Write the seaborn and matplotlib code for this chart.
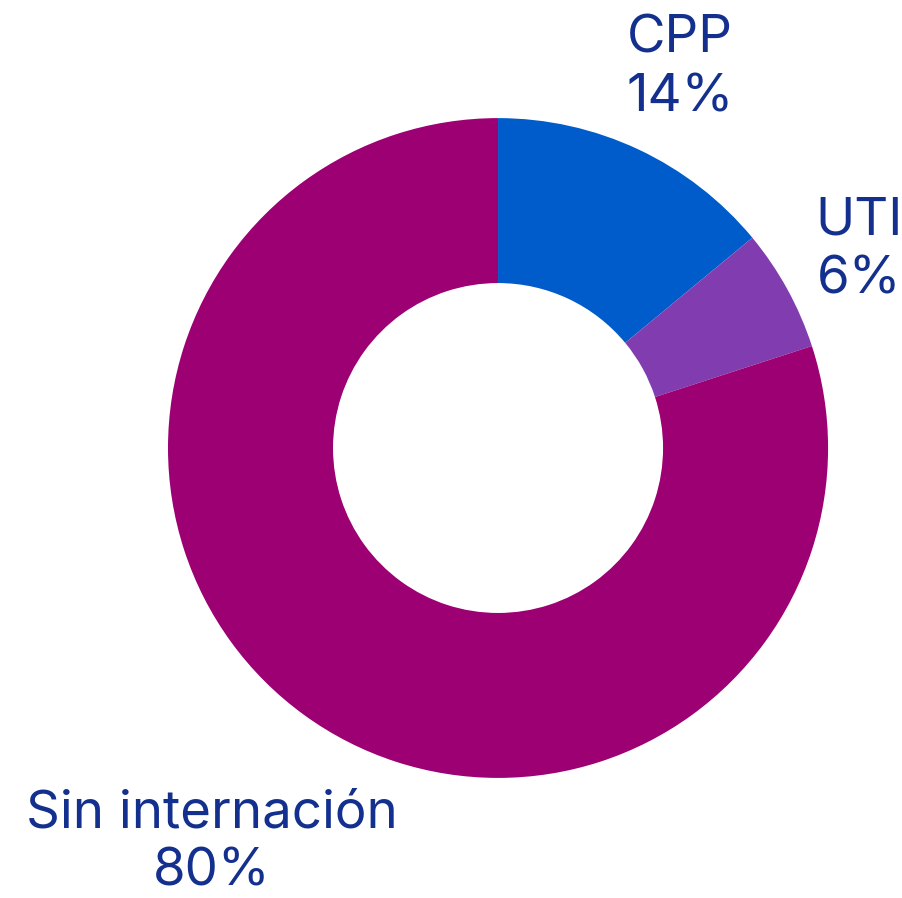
import seaborn as sns
import matplotlib.pyplot as plt

# datos: distribución por tipo de internación
categorias = ['CPP', 'UTI', 'Sin internación']
porcentajes = [14, 6, 80]
colores = ['#005BCB', '#813DAF', '#9C0072']

sns.set_theme(style='white')
plt.rcParams['font.family'] = ['Inter', 'DejaVu Sans']

fig = plt.figure(figsize=(9.03, 8.98), dpi=100)
ax = fig.add_axes([0, 0, 1, 1])

ax.pie(porcentajes, colors=colores, startangle=90, counterclock=False,
       radius=1, wedgeprops=dict(width=0.5, linewidth=0))

# limites para que el centro quede en el mismo pixel que la referencia
ax.set_xlim(-1.509, 1.227)
ax.set_ylim(-1.364, 1.358)
ax.set_aspect('auto')
ax.axis('off')

# posiciones de las etiquetas
pos = [(0.552, 1.15), (1.094, 0.598), (-0.867, -1.198)]
for cat, pct, (x, y) in zip(categorias, porcentajes, pos):
    ax.text(x, y, f'{cat}\n{pct}%', ha='center', va='center',
            fontsize=38, color='#14308F', linespacing=1.25)

fig.savefig('out.png', dpi=100, facecolor='white')
